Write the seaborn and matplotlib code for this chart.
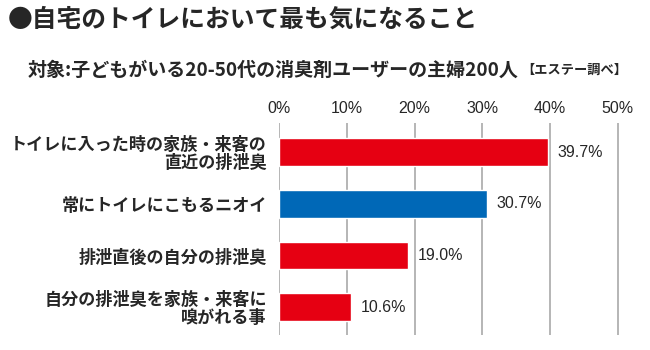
import matplotlib
matplotlib.use("Agg")
import matplotlib.pyplot as plt
import seaborn as sns
import pandas as pd

categories = ["トイレに入った時の家族・来客の\n直近の排泄臭", "常にトイレにこもるニオイ",
              "排泄直後の自分の排泄臭", "自分の排泄臭を家族・来客に\n嗅がれる事"]
values = [39.7, 30.7, 19.0, 10.6]
value_labels = ["39.7%", "30.7%", "19.0%", "10.6%"]
bar_colors = ["#E60012", "#0068B7", "#E60012", "#E60012"]
tick_values = [0, 10, 20, 30, 40, 50]
tick_labels = ["0%", "10%", "20%", "30%", "40%", "50%"]
title = "●自宅のトイレにおいて最も気になること"
subtitle = "対象:子どもがいる20-50代の消臭剤ユーザーの主婦200人"
source = "【エステー調べ】"

sns.set_theme(style="white")
plt.rcParams['font.family'] = ['Noto Sans CJK JP', 'DejaVu Sans']

df = pd.DataFrame({"cat": categories, "val": values})

fig = plt.figure(figsize=(6.5, 3.5), dpi=100)
ax = fig.add_axes([0.4297, 0.0429, 0.9554 - 0.4297, 0.6486 - 0.0429])
sns.barplot(data=df, x="val", y="cat", hue="cat", palette=bar_colors, legend=False,
            width=0.54, ax=ax, orient="h", saturation=1)

ax.set_xlim(0, 50.5)
ax.set_ylim(3.54, -0.57)
ax.set_xticks(tick_values)
ax.set_xticklabels(tick_labels, family=['Liberation Sans', 'DejaVu Sans'], fontsize=11.5)
ax.xaxis.tick_top()
ax.tick_params(axis='x', length=0, pad=5)
ax.tick_params(axis='y', length=0, pad=9)
for lbl in ax.get_yticklabels():
    lbl.set_fontweight('bold')
    lbl.set_fontsize(12.3)
    lbl.set_linespacing(1.0)
ax.set_xlabel("")
ax.set_ylabel("")
for s in ax.spines.values():
    s.set_visible(False)
ax.grid(False)
for t in tick_values:
    ax.axvline(t, color="#b0b0b0", lw=1.3, zorder=0)

for i, (v, lab) in enumerate(zip(values, value_labels)):
    ax.text(v + 1.4, i, lab, va="center", ha="left", fontsize=11.5,
            family=['Liberation Sans', 'DejaVu Sans'])

fig.text(0.012, 0.945, title, fontsize=17.8, fontweight='bold', va='center', ha='left')
fig.text(0.042, 0.80, subtitle, fontsize=13.7, fontweight='bold', va='center', ha='left')
fig.text(0.965, 0.80, source, fontsize=9.5, fontweight='bold', va='center', ha='right')

fig.savefig("out.png", dpi=100, facecolor="white")
